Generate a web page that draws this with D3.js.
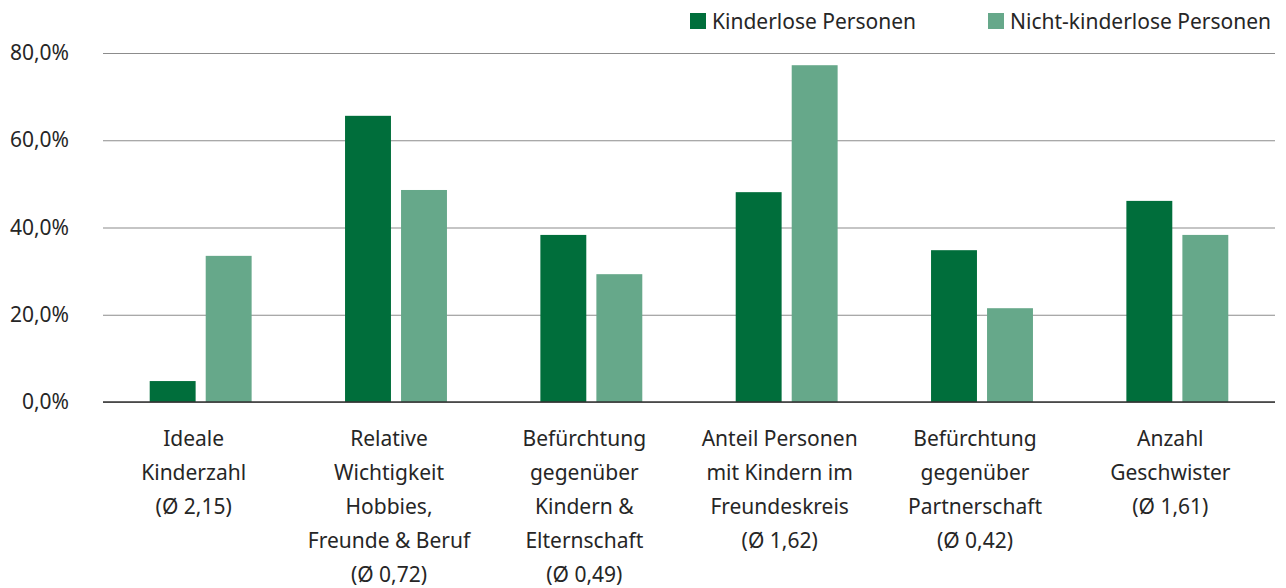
<!DOCTYPE html>
<html>
<head>
<meta charset="utf-8">
<title>Kinderlose vs. Nicht-kinderlose Personen</title>
<script src="https://cdnjs.cloudflare.com/ajax/libs/d3/7.8.5/d3.min.js"></script>
<style>
  body { margin: 0; background: #fff; }
  svg text { font-family: "Noto Sans", sans-serif; fill: #262626; }
  .grid line { stroke: #8c8c8c; stroke-width: 1.2; }
  .domain { display: none; }
</style>
</head>
<body>
<script>
// categories, each label split into lines
var categories = [
    ["Ideale", "Kinderzahl", "(Ø 2,15)"],
    ["Relative", "Wichtigkeit", "Hobbies,", "Freunde & Beruf", "(Ø 0,72)"],
    ["Befürchtung", "gegenüber", "Kindern &", "Elternschaft", "(Ø 0,49)"],
    ["Anteil Personen", "mit Kindern im", "Freundeskreis", "(Ø 1,62)"],
    ["Befürchtung", "gegenüber", "Partnerschaft", "(Ø 0,42)"],
    ["Anzahl", "Geschwister", "(Ø 1,61)"]
];
var seriesNames = ["Kinderlose Personen", "Nicht-kinderlose Personen"];
var kinderlos = [4.8, 65.6, 38.3, 48.1, 34.8, 46.1];
var nichtKinderlos = [33.5, 48.6, 29.3, 77.2, 21.5, 38.3];
var yTicks = [0, 20, 40, 60, 80];
var colors = ["#006e3b", "#66a88a"];

var width = 1286, height = 588;
var margin = {left: 103, right: 11, top: 53, bottom: 186};
var fontSize = "21px";

var svg = d3.select("body").append("svg")
    .attr("width", width)
    .attr("height", height);

var x = d3.scaleBand()
    .domain(d3.range(categories.length))
    .range([margin.left, width - margin.right]);

var x1 = d3.scaleBand()
    .domain([0, 1])
    .range([0, x.bandwidth()])
    .paddingInner(0.18)
    .paddingOuter(0.834);

var y = d3.scaleLinear()
    .domain([0, 80])
    .range([height - margin.bottom, margin.top]);

// grid + y labels
var yAxis = d3.axisLeft(y)
    .tickValues(yTicks)
    .tickSize(-(width - margin.left - margin.right))
    .tickPadding(34)
    .tickFormat(function (d) { return d3.format(".1f")(d).replace(".", ",") + "%"; });

svg.append("g")
    .attr("class", "grid")
    .attr("transform", "translate(" + margin.left + ",0)")
    .call(yAxis)
    .selectAll("text")
    .style("font-size", fontSize);

// bars
var series = [kinderlos, nichtKinderlos];
series.forEach(function (vals, s) {
    svg.append("g").selectAll("rect")
        .data(vals)
        .enter().append("rect")
        .attr("x", function (d, i) { return x(i) + x1(s); })
        .attr("width", x1.bandwidth())
        .attr("y", function (d) { return y(d); })
        .attr("height", function (d) { return y(0) - y(d); })
        .attr("fill", colors[s]);
});

// baseline
svg.append("line")
    .attr("x1", margin.left).attr("x2", width - margin.right)
    .attr("y1", y(0)).attr("y2", y(0))
    .attr("stroke", "#333").attr("stroke-width", 1.5);

// category labels (sit a little left of the bar groups in the original)
var lab = svg.append("g").selectAll("text")
    .data(categories)
    .enter().append("text")
    .attr("text-anchor", "middle")
    .style("font-size", fontSize)
    .attr("x", function (d, i) { return x(i) + x.bandwidth() / 2 - 7; })
    .attr("y", y(0) + 44);
lab.selectAll("tspan")
    .data(function (d) { return d; })
    .enter().append("tspan")
    .attr("x", function () { return d3.select(this.parentNode).attr("x"); })
    .attr("dy", function (d, j) { return j === 0 ? 0 : 34; })
    .text(function (d) { return d; });

// legend
var legendX = [690, 988];
var leg = svg.append("g").selectAll("g")
    .data(seriesNames)
    .enter().append("g")
    .attr("transform", function (d, i) { return "translate(" + legendX[i] + ",13)"; });
leg.append("rect")
    .attr("width", 16).attr("height", 16)
    .attr("fill", function (d, i) { return colors[i]; });
leg.append("text")
    .attr("x", 22).attr("y", 16)
    .style("font-size", fontSize)
    .text(function (d) { return d; });
</script>
</body>
</html>
